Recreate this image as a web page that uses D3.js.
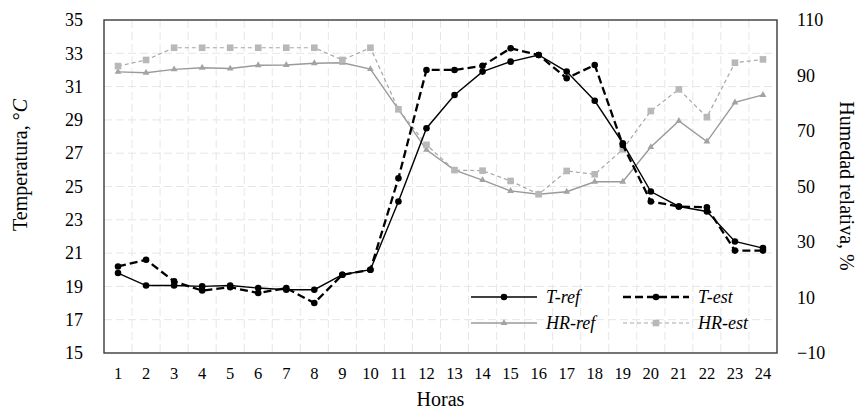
<!DOCTYPE html>
<html><head><meta charset="utf-8">
<script src="https://cdn.jsdelivr.net/npm/d3@7"></script>
<style>body{margin:0;background:#fff}svg{display:block}svg text{font-family:"Liberation Serif","Times New Roman","DejaVu Serif",serif !important;fill:#000}</style>
</head><body><svg id="c" width="858" height="409"></svg>
<script>
const hours = d3.range(1, 25);
const tRef = [19.8, 19.05, 19.05, 19.0, 19.05, 18.9, 18.8, 18.8, 19.7, 20.0, 24.1, 28.5, 30.5, 31.9, 32.5, 32.9, 31.9, 30.15, 27.6, 24.7, 23.8, 23.5, 21.7, 21.3];
const tEst = [20.2, 20.6, 19.3, 18.75, 18.95, 18.6, 18.9, 18.0, 19.7, 20.0, 25.5, 32.0, 32.0, 32.25, 33.3, 32.9, 31.5, 32.3, 27.5, 24.1, 23.8, 23.75, 21.15, 21.15];
const hrRef = [91.3, 91.0, 92.2, 92.8, 92.5, 93.7, 93.8, 94.4, 94.6, 92.3, 77.8, 63.2, 55.9, 52.3, 48.4, 47.2, 48.1, 51.7, 51.7, 64.2, 73.6, 66.2, 80.3, 83.0];
const hrEst = [93.4, 95.6, 100, 100, 100, 100, 100, 100, 95.6, 100, 77.8, 65.0, 55.9, 55.7, 52.0, 47.2, 55.6, 54.4, 63.4, 77.2, 85.0, 75.0, 94.6, 95.8];
const tTicks = [15, 17, 19, 21, 23, 25, 27, 29, 31, 33, 35];
const hrTicks = [-10, 10, 30, 50, 70, 90, 110];

const L = 104, R = 777, T = 20, B = 353;
const FONT = '"Liberation Serif","Times New Roman","DejaVu Serif",serif';
const svg = d3.select("#c");
const x = d3.scaleBand().domain(hours).range([L, R]).padding(0);
const cx = h => x(h) + x.bandwidth() / 2;
const yT = d3.scaleLinear().domain([15, 35]).range([B, T]);
const yH = d3.scaleLinear().domain([-10, 110]).range([B, T]);

// gridlines
const grid = svg.append("g").attr("stroke", "#e6e6e6").attr("stroke-width", 1).attr("stroke-dasharray", "8,4");
tTicks.slice(1, -1).forEach(t => grid.append("line").attr("x1", L).attr("x2", R).attr("y1", yT(t)).attr("y2", yT(t)));
hours.slice(1).forEach(h => grid.append("line").attr("x1", x(h)).attr("x2", x(h)).attr("y1", T).attr("y2", B));

// axes
const axL = svg.append("g").attr("transform", `translate(${L},0)`).call(d3.axisLeft(yT).tickValues(tTicks).tickSize(0).tickPadding(21));
const axR = svg.append("g").attr("transform", `translate(${R},0)`).call(d3.axisRight(yH).tickValues(hrTicks).tickSize(0).tickPadding(20));
const axB = svg.append("g").attr("transform", `translate(0,${B})`).call(d3.axisBottom(x).tickSize(0).tickPadding(14));
[axL, axR].forEach(a => { a.attr("font-family", FONT); a.select(".domain").remove(); a.selectAll("text").attr("font-size", 18).attr("fill", "#222"); });
axB.attr("font-family", FONT); axB.select(".domain").remove(); axB.selectAll("text").attr("font-size", 16.5).attr("fill", "#222");

// frame
svg.append("rect").attr("x", L).attr("y", T).attr("width", R - L).attr("height", B - T)
  .attr("fill", "none").attr("stroke", "#3a3a3a").attr("stroke-width", 1.4);

const line = (ys) => d3.line().x((d, i) => cx(hours[i])).y(d => ys(d));

function series(vals, ys, color, width, dash, marker, mcolor) {
  const g = svg.append("g");
  g.append("path").datum(vals).attr("d", line(ys)).attr("fill", "none").attr("stroke", color)
    .attr("stroke-width", width).attr("stroke-dasharray", dash);
  g.selectAll("path.m").data(vals).enter().append("path").attr("class", "m")
    .attr("transform", (d, i) => `translate(${cx(hours[i])},${ys(d)})`)
    .attr("d", marker).attr("fill", mcolor);
}
const circ = d3.symbol().type(d3.symbolCircle).size(34)();
const tri = d3.symbol().type(d3.symbolTriangle).size(20)();
const sq = d3.symbol().type(d3.symbolSquare).size(44)();

series(hrRef, yH, "#9a9a9a", 1.4, null, tri, "#a3a3a3");
series(hrEst, yH, "#a6a6a6", 1.2, "4,3", sq, "#b8b8b8");
series(tRef, yT, "#000", 1.4, null, circ, "#000");
series(tEst, yT, "#000", 2.3, "8,4", circ, "#000");

// legend
const leg = svg.append("g").attr("font-family", FONT);
const items = [
  {name: "T-ref", x: 471, y: 297, color: "#000", w: 1.4, dash: null, m: circ, mc: "#000"},
  {name: "T-est", x: 623, y: 297, color: "#000", w: 2.3, dash: "8,4", m: circ, mc: "#000"},
  {name: "HR-ref", x: 471, y: 323, color: "#9a9a9a", w: 1.4, dash: null, m: tri, mc: "#a3a3a3"},
  {name: "HR-est", x: 623, y: 323, color: "#a6a6a6", w: 1.2, dash: "4,3", m: sq, mc: "#b8b8b8"}
];
items.forEach(it => {
  leg.append("line").attr("x1", it.x).attr("x2", it.x + 66).attr("y1", it.y).attr("y2", it.y)
    .attr("stroke", it.color).attr("stroke-width", it.w).attr("stroke-dasharray", it.dash);
  leg.append("path").attr("d", it.m).attr("transform", `translate(${it.x + 33},${it.y})`).attr("fill", it.mc);
  leg.append("text").attr("x", it.x + 75).attr("y", it.y + 6).attr("font-size", 18).attr("font-style", "italic").text(it.name);
});

// titles
const tg = svg.append("g").attr("font-family", FONT);
tg.append("text").attr("x", (L + R) / 2).attr("y", 406).attr("text-anchor", "middle").attr("font-size", 20).text("Horas");
const tl = tg.append("text").attr("transform", "translate(27,165) rotate(-90)").attr("text-anchor", "middle").attr("font-size", 20);
tl.append("tspan").text("Temperatura, °");
tl.append("tspan").attr("font-style", "italic").text("C");
tg.append("text").attr("transform", "translate(840,186) rotate(90)").attr("text-anchor", "middle").attr("font-size", 20).text("Humedad relativa, %");
</script></body></html>
